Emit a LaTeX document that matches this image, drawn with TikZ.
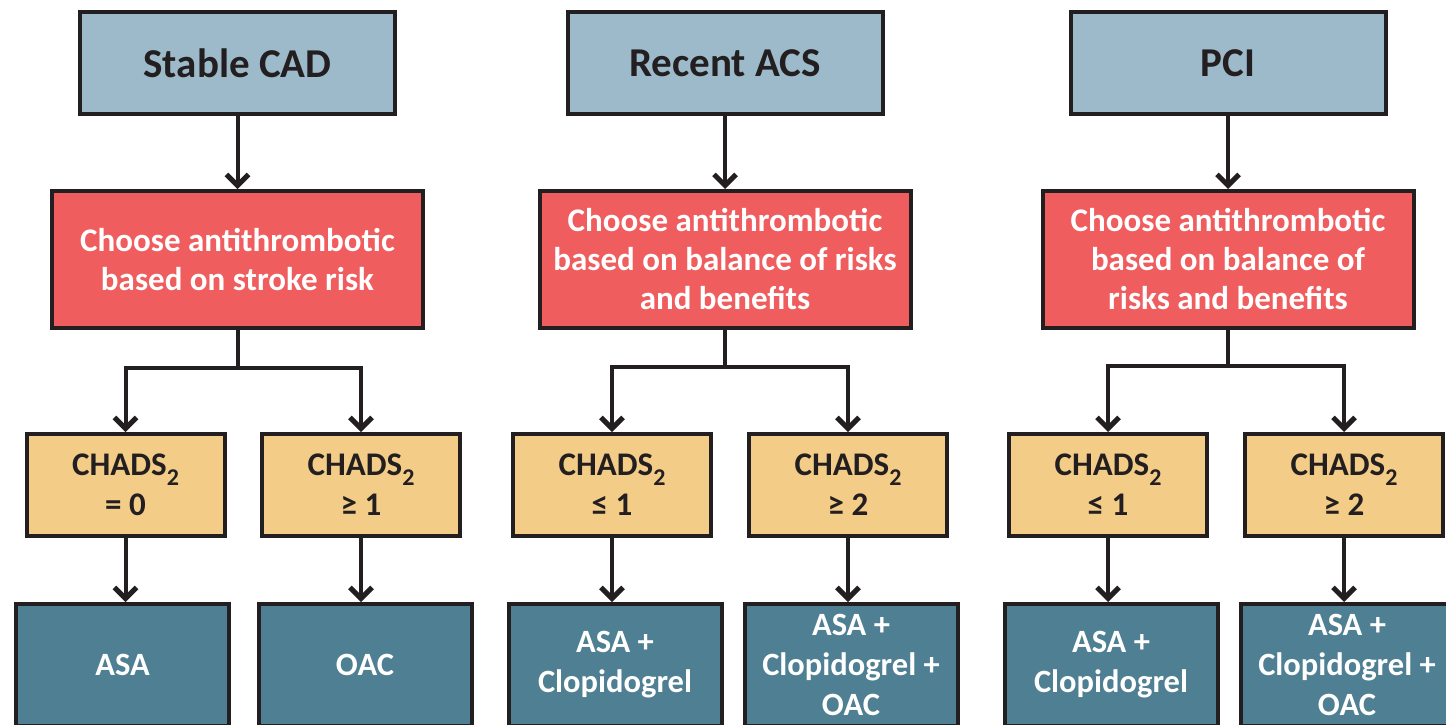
\documentclass[tikz,border=0pt]{standalone}
\usepackage{fontspec}
\setmainfont{Carlito}
\usetikzlibrary{arrows.meta, positioning}
\definecolor{caseblue}{RGB}{157,186,203}
\definecolor{choosered}{RGB}{240,93,94}
\definecolor{chadsyellow}{RGB}{243,204,135}
\definecolor{drugteal}{RGB}{78,127,146}
\definecolor{linedark}{RGB}{35,31,32}
\newcommand{\lowtwo}{\raisebox{-0.3em}{\fontsize{24}{24}\selectfont 2}}

\begin{document}
\begin{tikzpicture}[x=1pt, y=1pt,
    casebox/.style={rectangle, draw=linedark, line width=4pt, fill=caseblue, minimum width=315pt, minimum height=102pt, align=center, text=linedark, font=\fontsize{41}{48}\selectfont\bfseries},
    choosebox/.style={rectangle, draw=linedark, line width=4pt, fill=choosered, minimum width=371pt, minimum height=137pt, align=center, text=white, font=\fontsize{33}{39}\selectfont\bfseries},
    chadsbox/.style={rectangle, draw=linedark, line width=4pt, fill=chadsyellow, minimum width=198pt, minimum height=102pt, align=center, text=linedark, font=\fontsize{33}{40}\selectfont\bfseries},
    drugbox/.style={rectangle, draw=linedark, line width=4pt, fill=drugteal, minimum width=213pt, minimum height=122pt, align=center, text=white, font=\fontsize{32.5}{40}\selectfont\bfseries},
    link/.style={line width=4pt, color=linedark},
    arrow/.style={-{Straight Barb[length=11pt, width=22pt, line width=5pt]}, line width=4pt, color=linedark}
]
\useasboundingbox (0,0) rectangle (1446,-724);
\clip (0,0) rectangle (1446,-724);

% stable CAD
\node[casebox] (cad) at (237.5,-63) {Stable CAD};
\node[choosebox, below=73pt of cad] (red1) {Choose antithrombotic\\based on stroke risk};
\node[chadsbox, below=102pt of red1.south, xshift=-112pt] (ya) {CHADS\lowtwo\\= 0};
\node[chadsbox, below=102pt of red1.south, xshift=123.5pt] (yb) {CHADS\lowtwo\\≥ 1};
\node[drugbox, below=64pt of ya, xshift=-3pt] (ta) {ASA};
\node[drugbox, below=64pt of yb, xshift=4pt] (tb) {OAC};

% recent ACS
\node[casebox] (acs) at (725,-63) {Recent ACS};
\node[choosebox, below=73pt of acs] (red2) {Choose antithrombotic\\based on balance of risks\\and benefits};
\node[chadsbox, below=102pt of red2.south, xshift=-113pt] (yc) {CHADS\lowtwo\\≤ 1};
\node[chadsbox, below=102pt of red2.south, xshift=123pt] (yd) {CHADS\lowtwo\\≥ 2};
\node[drugbox, below=64pt of yc, xshift=3pt] (tc) {ASA +\\Clopidogrel};
\node[drugbox, below=64pt of yd, xshift=3pt] (td) {ASA +\\Clopidogrel +\\OAC};

% PCI
\node[casebox] (pci) at (1228,-63) {PCI};
\node[choosebox, below=73pt of pci] (red3) {Choose antithrombotic\\based on balance of\\risks and benefits};
\node[chadsbox, below=102pt of red3.south, xshift=-120pt] (ye) {CHADS\lowtwo\\≤ 1};
\node[chadsbox, below=102pt of red3.south, xshift=116pt] (yf) {CHADS\lowtwo\\≥ 2};
\node[drugbox, below=64pt of ye, xshift=3pt] (te) {ASA +\\Clopidogrel};
\node[drugbox, below=64pt of yf, xshift=3pt] (tf) {ASA +\\Clopidogrel +\\OAC};

\draw[arrow] (cad) -- (red1);
\draw[arrow] (acs) -- (red2);
\draw[arrow] (pci) -- (red3);

\draw[link] (red1.south) -- ++(0,-38) coordinate (j1);
\draw[link] (red2.south) -- ++(0,-37) coordinate (j2);
\draw[link] (red3.south) -- ++(0,-36) coordinate (j3);
\draw[arrow] (j1) -| (ya.north);
\draw[arrow] (j1) -| (yb.north);
\draw[arrow] (j2) -| (yc.north);
\draw[arrow] (j2) -| (yd.north);
\draw[arrow] (j3) -| (ye.north);
\draw[arrow] (j3) -| (yf.north);

\draw[arrow] (ya) -- (ya.south |- ta.north);
\draw[arrow] (yb) -- (yb.south |- tb.north);
\draw[arrow] (yc) -- (yc.south |- tc.north);
\draw[arrow] (yd) -- (yd.south |- td.north);
\draw[arrow] (ye) -- (ye.south |- te.north);
\draw[arrow] (yf) -- (yf.south |- tf.north);
\end{tikzpicture}
\end{document}
